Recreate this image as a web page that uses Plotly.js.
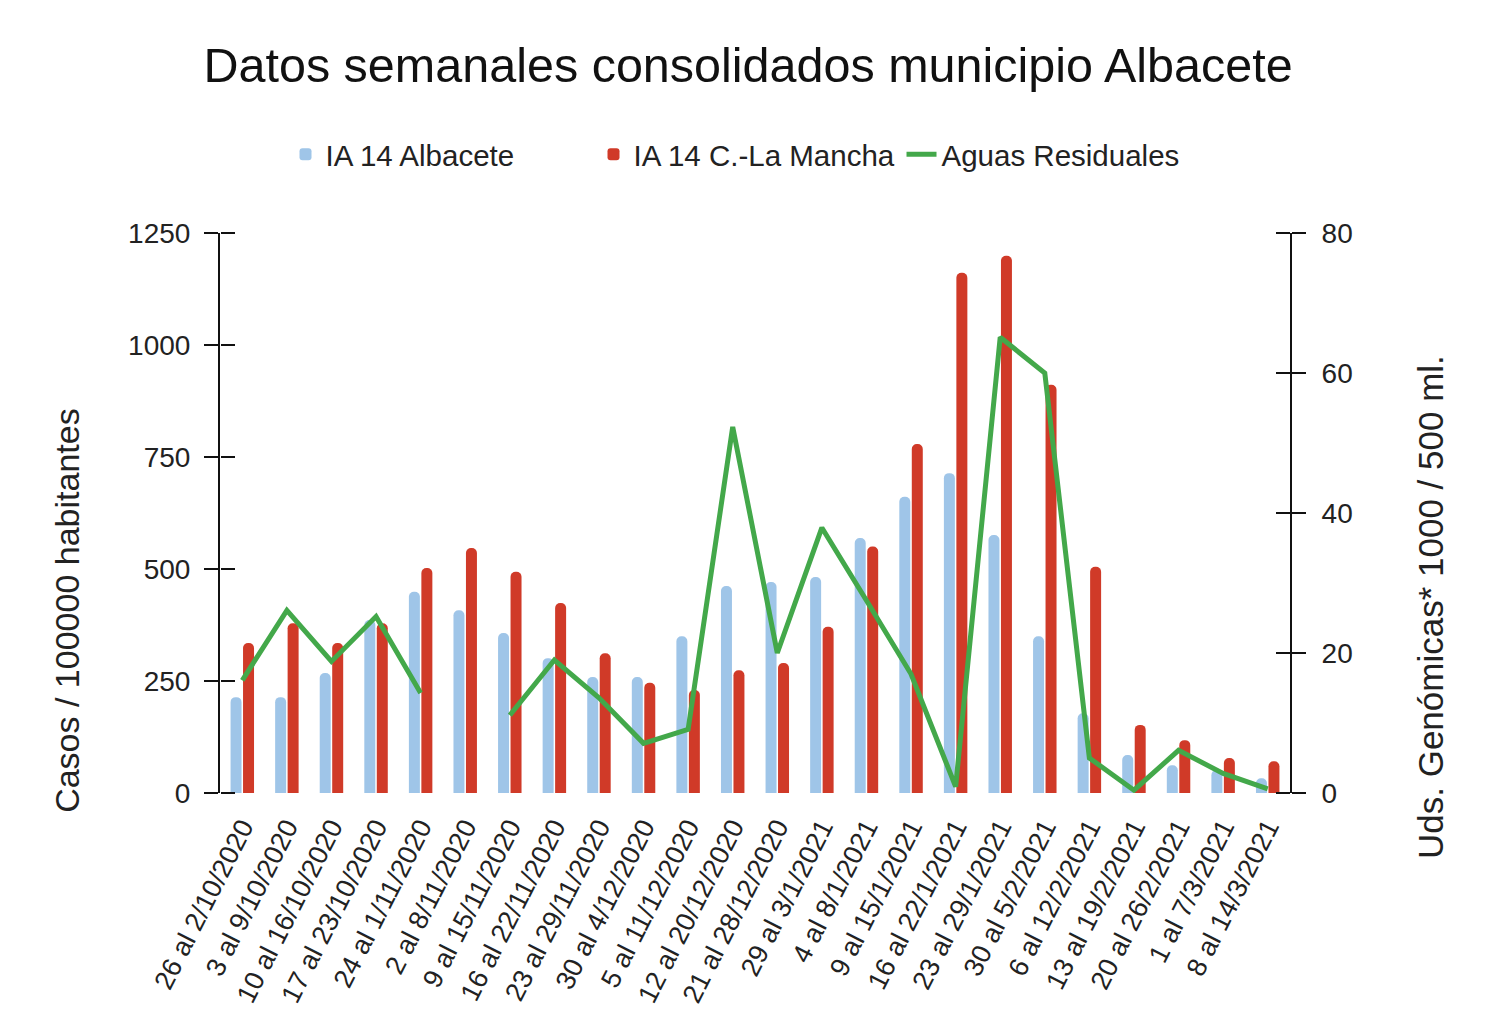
<!DOCTYPE html>
<html>
<head>
<meta charset="utf-8">
<script src="https://cdn.plot.ly/plotly-3.0.1.min.js"></script>
<style>
  html, body { margin: 0; padding: 0; background: #fff; }
  #grafico { width: 1500px; height: 1025px; }
</style>
</head>
<body>
<div id="grafico"></div>
<script>
// Semanas (eje X) y las tres series
const semanas = [
  '26 al 2/10/2020', '3 al 9/10/2020', '10 al 16/10/2020', '17 al 23/10/2020',
  '24 al 1/11/2020', '2 al 8/11/2020', '9 al 15/11/2020', '16 al 22/11/2020',
  '23 al 29/11/2020', '30 al 4/12/2020', '5 al 11/12/2020', '12 al 20/12/2020',
  '21 al 28/12/2020', '29 al 3/1/2021', '4 al 8/1/2021', '9 al 15/1/2021',
  '16 al 22/1/2021', '23 al 29/1/2021', '30 al 5/2/2021', '6 al 12/2/2021',
  '13 al 19/2/2021', '20 al 26/2/2021', '1 al 7/3/2021', '8 al 14/3/2021'
];

// IA 14 días, casos / 100000 hab.
const ia14Albacete = [214, 214, 268, 386, 449, 408, 357, 301, 259, 259, 350, 462,
                      471, 482, 569, 661, 714, 576, 350, 178, 85, 62, 51, 33];
const ia14CLM = [335, 379, 335, 379, 502, 547, 494, 424, 312, 246, 230, 274,
                 290, 371, 550, 779, 1161, 1199, 911, 505, 152, 118, 78, 71];

// Aguas residuales, uds. genómicas * 1000 / 500 ml (null = sin muestra)
const aguasResiduales = [16.1, 26.1, 18.8, 25.2, 14.3, null, 11.1, 19, 13.6, 7.1, 9.1, 52.3,
                         20, 37.9, 27.5, 17, 0.9, 65.1, 60, 5, 0.4, 6.1, 2.8, 0.6];

const ticksIzq = [0, 250, 500, 750, 1000, 1250];
const ticksDer = [0, 20, 40, 60, 80];

const FUENTE = 'Liberation Sans, Arial, Helvetica, sans-serif';

const trazas = [
  {
    type: 'bar', name: 'IA 14 Albacete', x: semanas, y: ia14Albacete,
    marker: { color: '#9fc5e8', cornerradius: 6 },
  },
  {
    type: 'bar', name: 'IA 14 C.-La Mancha', x: semanas, y: ia14CLM,
    marker: { color: '#d03a28', cornerradius: 6 },
  },
  {
    type: 'scatter', mode: 'lines', name: 'Aguas Residuales', x: semanas, y: aguasResiduales,
    yaxis: 'y2', connectgaps: false,
    line: { color: '#43a84a', width: 5 },
  },
  // trazas vacías: solo sostienen los ejes libres que dibujan la mitad interior de cada marca (ticks cruzados)
  { type: 'scatter', x: [], y: [], yaxis: 'y3', showlegend: false, hoverinfo: 'skip' },
  { type: 'scatter', x: [], y: [], yaxis: 'y4', showlegend: false, hoverinfo: 'skip' },
];

const ejeComun = {
  showgrid: false, zeroline: false, showline: true, linecolor: '#111', linewidth: 2,
  ticks: 'outside', ticklen: 14, tickwidth: 2, tickcolor: '#111',
  tickfont: { family: FUENTE, size: 28, color: '#222' },
};

// media marca hacia adentro del área de trazado, sin línea ni etiquetas
const ejeMarcasInternas = {
  overlaying: 'y', anchor: 'free', showgrid: false, zeroline: false, showline: false,
  showticklabels: false, ticks: 'outside', ticklen: 14, tickwidth: 2, tickcolor: '#111',
};

const layout = {
  width: 1500, height: 1025,
  margin: { t: 233, b: 232, l: 220, r: 210 },
  paper_bgcolor: '#fff', plot_bgcolor: '#fff',
  font: { family: FUENTE, color: '#111' },
  title: {
    text: 'Datos semanales consolidados municipio Albacete',
    font: { family: FUENTE, size: 48.5, color: '#111' },
    x: 0.4987, xanchor: 'center', y: 0.937, yanchor: 'middle', yref: 'container',
  },
  showlegend: true,
  legend: {
    orientation: 'h', x: 0.493, xanchor: 'center', y: 1.14, yanchor: 'middle',
    font: { family: FUENTE, size: 29.5, color: '#222' }, itemwidth: 30,
    entrywidth: 263, entrywidthmode: 'pixels',
  },
  barmode: 'group', bargap: 0.44, bargroupgap: 0.12,
  xaxis: {
    type: 'category', showgrid: false, zeroline: false, showline: false, ticks: '',
    tickangle: -63, ticklabelstandoff: 12, tickfont: { family: FUENTE, size: 27, color: '#222' },
  },
  yaxis: Object.assign({}, ejeComun, { range: [0, 1250], tickvals: ticksIzq, ticklabelstandoff: 8 }),
  yaxis2: Object.assign({}, ejeComun, {
    range: [0, 80], tickvals: ticksDer, overlaying: 'y', side: 'right', anchor: 'x', ticklabelstandoff: 10,
  }),
  yaxis3: Object.assign({}, ejeMarcasInternas, { range: [0, 1250], tickvals: ticksIzq, side: 'right', position: 0 }),
  yaxis4: Object.assign({}, ejeMarcasInternas, { range: [0, 80], tickvals: ticksDer, side: 'left', position: 1 }),
  // títulos de eje como anotaciones: en el original no están centrados en el alto del gráfico
  annotations: [
    {
      text: 'Casos / 100000 habitantes', textangle: -90, showarrow: false,
      xref: 'paper', yref: 'paper', x: -0.143, y: 0.327, xanchor: 'center', yanchor: 'middle',
      font: { family: FUENTE, size: 34, color: '#222' },
    },
    {
      text: 'Uds. Genómicas* 1000 / 500 ml.', textangle: -90, showarrow: false,
      xref: 'paper', yref: 'paper', x: 1.1308, y: 0.332, xanchor: 'center', yanchor: 'middle',
      font: { family: FUENTE, size: 35, color: '#222' },
    },
  ],
};

Plotly.newPlot('grafico', trazas, layout, { displayModeBar: false, responsive: false });
</script>
</body>
</html>
